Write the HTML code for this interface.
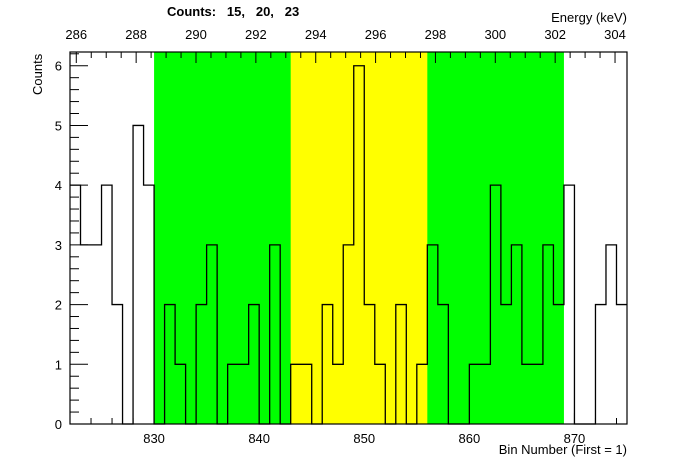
<!DOCTYPE html>
<html><head><meta charset="utf-8"><style>
html,body{margin:0;padding:0;background:#fff;}
svg{display:block;font-family:"Liberation Sans",Arial,sans-serif;}
</style></head><body>
<svg id="chart" width="696" height="472" viewBox="0 0 696 472"></svg>
<script>
const binStart = 822;
const counts = [4,3,3,4,2,0,5,4, 0,2,1,0,2,3,0,1,1,2,0,3,0, 1,1,0,2,1,3,6,2,1,0,2,0,1, 3,2,0,0,1,1,4,2,3,1,1,3,2, 4,0,0,2,3,2];
const greenRegion = [830, 869];
const yellowRegion = [843, 856];
const xTicks = [830,840,850,860,870];
const yTicks = [0,1,2,3,4,5,6];
const eTicks = [286,288,290,292,294,296,298,300,302,304];
const peakCounts = ["15","20","23"];

const L=70,R=627,T=52,B=424;
const xMin=822,xMax=875,yMax=6.23,eMin=285.79,eMax=304.40;
const sx=v=>L+(v-xMin)/(xMax-xMin)*(R-L);
const sy=v=>B-v/yMax*(B-T);
const se=v=>L+(v-eMin)/(eMax-eMin)*(R-L);
const svg=document.getElementById('chart');
const NS='http://www.w3.org/2000/svg';
function mk(tag,attrs,parent){const e=document.createElementNS(NS,tag);for(const k in attrs)e.setAttribute(k,attrs[k]);(parent||svg).appendChild(e);return e;}

// y minor/major ticks (left)
for(let i=0;i<=31;i++){const v=i*0.2;if(v>yMax)break;const maj=i%5===0;
 const t=mk('line',{x1:L,x2:L+(maj?18:9),y1:sy(v),y2:sy(v),stroke:'#000','stroke-width':1});
 }
// bottom ticks
for(let v=822;v<=875;v+=2){const maj=v%10===0;
 const t=mk('line',{x1:sx(v),x2:sx(v),y1:B,y2:B-(maj?11:6),stroke:'#000','stroke-width':1});
 }

// regions
const g=mk('rect',{x:sx(greenRegion[0]),y:T,width:sx(greenRegion[1])-sx(greenRegion[0]),height:B-T,fill:'#00ff00'});

const yr=mk('rect',{x:sx(yellowRegion[0]),y:T,width:sx(yellowRegion[1])-sx(yellowRegion[0]),height:B-T,fill:'#ffff00'});


// top energy ticks
for(let i=0;;i++){const v=286+i*0.5;if(v>eMax)break;const maj=i%4===0;
 const t=mk('line',{x1:se(v),x2:se(v),y1:T,y2:T+(maj?11:6),stroke:'#000','stroke-width':1});
 }
{const t=mk('line',{x1:se(285.79+0.0),x2:se(285.79),y1:T,y2:T,stroke:'#000'});}

// histogram
let d='M'+L+','+sy(counts[0]);
counts.forEach((c,i)=>{const x0=sx(binStart+i),x1=sx(binStart+i+1);
 if(i>0)d+=' L'+x0+','+sy(c);d+=' L'+x1+','+sy(c);});
const h=mk('path',{d:d,fill:'none',stroke:'#000','stroke-width':1.3});


// frame
const f=mk('rect',{x:L,y:T,width:R-L,height:B-T,fill:'none',stroke:'#000','stroke-width':1.2});


// labels
yTicks.forEach(v=>{const t=mk('text',{x:L-8,y:sy(v)+5,'font-size':13,'text-anchor':'end'});t.textContent=v;
 });
xTicks.forEach(v=>{const t=mk('text',{x:sx(v),y:443,'font-size':13,'text-anchor':'middle'});t.textContent=v;
 });
eTicks.forEach(v=>{const t=mk('text',{x:se(v),y:39,'font-size':13,'text-anchor':'middle'});t.textContent=v;
 });
</script>
<svg width="0" height="0"></svg>
<div style="position:absolute;left:0;top:0;width:696px;height:472px;pointer-events:none;font-family:'Liberation Sans',Arial,sans-serif;">
<div style="position:absolute;right:69px;top:442px;font-size:13px;">Bin Number (First = 1)</div>
<div style="position:absolute;right:69px;top:10px;font-size:13px;">Energy (keV)</div>
<div style="position:absolute;left:30px;top:52px;font-size:13px;transform-origin:0 0;transform:translate(0,43px) rotate(-90deg);">Counts</div>
<div style="position:absolute;left:167px;top:4px;font-size:13px;font-weight:bold;white-space:pre;">Counts:   15,   20,   23</div>
</div>
</body></html>
